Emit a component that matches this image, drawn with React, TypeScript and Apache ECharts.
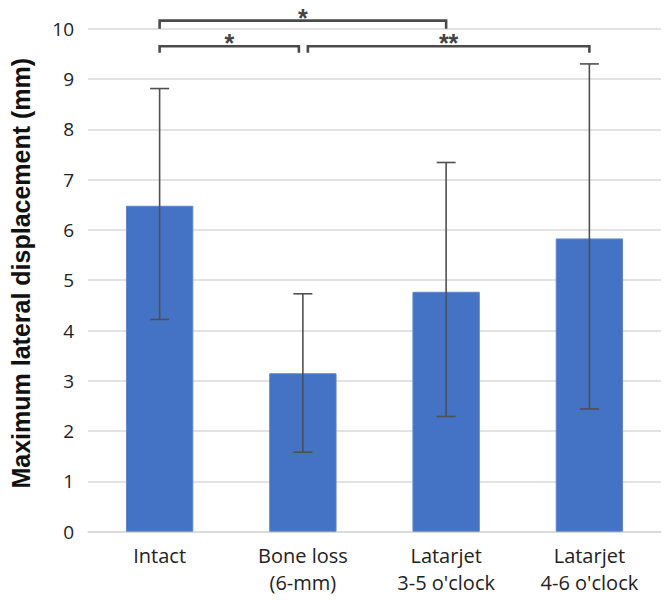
import React, { useEffect, useRef } from "react";
import * as echarts from "echarts";

const categories = ["Intact", "Bone loss\n(6-mm)", "Latarjet\n3-5 o'clock", "Latarjet\n4-6 o'clock"];
const means = [6.48, 3.15, 4.77, 5.83];
const lowerErr = [4.22, 1.58, 2.29, 2.44];
const upperErr = [8.81, 4.73, 7.34, 9.3];
const yTicks = [0, 1, 2, 3, 4, 5, 6, 7, 8, 9, 10];

// significance brackets
const bracketFrom = [0, 0, 1];
const bracketTo = [2, 1, 3];
const bracketLevel = [10.16, 9.65, 9.65];
const bracketLeg = [10.0, 9.52, 9.52];
const bracketLabel = ["*", "*", "**"];

export default function App() {
  const ref = useRef<HTMLDivElement>(null);
  useEffect(() => {
    if (!ref.current) return;
    const chart = echarts.init(ref.current, undefined, { renderer: "svg" });
    const fromOffset = [0, 0, 5];
    const toOffset = [0, -4, 0];
    chart.setOption({
      animation: false,
      grid: { left: 81, right: 5, top: 28.7, bottom: 70.3, containLabel: false },
      xAxis: {
        type: "category",
        data: categories,
        axisLine: { show: true, lineStyle: { color: "#d9d9d9", width: 1.5 } },
        axisTick: { show: false },
        axisLabel: {
          color: "#222",
          fontSize: 20,
          fontFamily: "Open Sans",
          lineHeight: 26.5,
          margin: 11,
        },
      },
      yAxis: {
        type: "value",
        min: 0,
        max: 10,
        interval: 1,
        name: "Maximum lateral displacement (mm)",
        nameLocation: "middle",
        nameGap: 55,
        nameTextStyle: {
          fontSize: 25,
          fontWeight: "bold",
          color: "#111",
          fontFamily: "Liberation Sans",
          padding: [0, 0, 0, 14],
        },
        axisLine: { show: false },
        axisTick: { show: false },
        axisLabel: {
          color: "#222",
          fontSize: 19,
          fontFamily: "Open Sans",
          margin: 14,
          formatter: (v: number) => (yTicks.includes(v) ? String(v) : ""),
        },
        splitLine: { show: true, lineStyle: { color: "#d9d9d9", width: 1.5 } },
      },
      series: [
        {
          type: "bar",
          data: means,
          barWidth: "47%",
          itemStyle: { color: "#4472C4", borderColor: "#5a85d0", borderWidth: 1 },
        },
        {
          type: "custom",
          data: means.map((_, i) => [i, lowerErr[i], upperErr[i]]),
          encode: { x: 0, y: [1, 2] },
          z: 5,
          renderItem: (params: any, api: any) => {
            const i = api.value(0);
            const lo = api.coord([i, api.value(1)]);
            const hi = api.coord([i, api.value(2)]);
            const x = lo[0];
            const cap = 9.5;
            const st = { stroke: "#505050", lineWidth: 1.6 };
            return {
              type: "group",
              children: [
                { type: "line", shape: { x1: x, y1: lo[1], x2: x, y2: hi[1] }, style: st },
                { type: "line", shape: { x1: x - cap, y1: lo[1], x2: x + cap, y2: lo[1] }, style: st },
                { type: "line", shape: { x1: x - cap, y1: hi[1], x2: x + cap, y2: hi[1] }, style: st },
              ],
            };
          },
        },
        {
          type: "custom",
          clip: false,
          data: bracketFrom.map((f, i) => [f, bracketLevel[i], bracketTo[i], bracketLeg[i]]),
          encode: { x: [0, 2], y: [1, 3] },
          z: 6,
          renderItem: (params: any, api: any) => {
            const k = params.dataIndex;
            const a = api.coord([api.value(0), api.value(1)]);
            const b = api.coord([api.value(2), api.value(1)]);
            const leg = api.coord([api.value(0), api.value(3)]);
            const x1 = a[0] + fromOffset[k];
            const x2 = b[0] + toOffset[k];
            const y = a[1];
            const yl = leg[1];
            return {
              type: "group",
              children: [
                {
                  type: "polyline",
                  shape: { points: [[x1, yl], [x1, y], [x2, y], [x2, yl]] },
                  style: { stroke: "#4a4a4a", lineWidth: 2.6, fill: "none" },
                },
                {
                  type: "text",
                  x: (x1 + x2) / 2,
                  y: y - 3,
                  style: {
                    text: bracketLabel[k],
                    fontSize: 25,
                    fontWeight: "bold",
                    fontFamily: "Liberation Sans",
                    fill: "#444",
                    align: "center",
                    verticalAlign: "middle",
                  },
                },
              ],
            };
          },
        },
      ],
    });
    return () => chart.dispose();
  }, []);
  return <div ref={ref} style={{ width: 666, height: 602, position: "absolute", left: 0, top: 0 }} />;
}
